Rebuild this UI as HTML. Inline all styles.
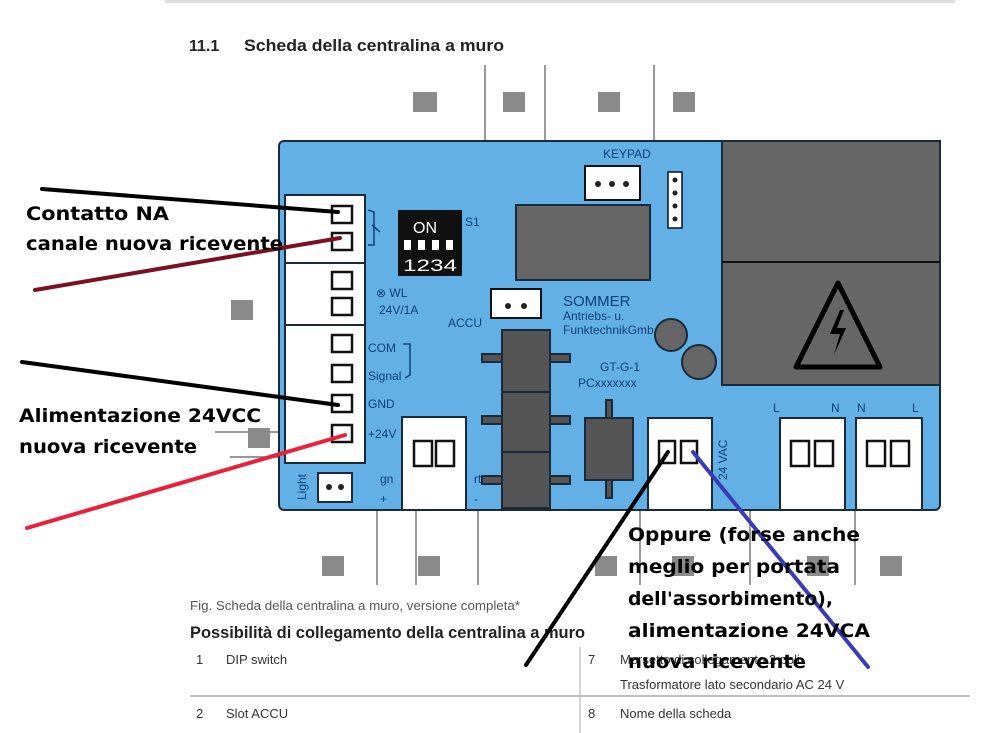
<!DOCTYPE html>
<html><head><meta charset="utf-8"><style>
html,body{margin:0;padding:0;background:#fff;}
svg{display:block;}
.lab{fill:#0d3f7a;font-family:"Liberation Sans",sans-serif;font-size:12px;}
.ann{font-family:"DejaVu Sans",sans-serif;font-weight:bold;font-size:19px;fill:#000;}
.g{fill:#8a8a8a;}
.tb{fill:#333;font-family:"Liberation Sans",sans-serif;font-size:13px;}
</style></head><body>
<svg width="1000" height="733" viewBox="0 0 1000 733" xmlns="http://www.w3.org/2000/svg">
<rect x="165" y="0" width="790" height="3" fill="#ddd"/>
<text x="189" y="51" font-family="Liberation Sans,sans-serif" font-weight="bold" font-size="16" fill="#222">11.1</text>
<text x="244" y="51" font-family="Liberation Sans,sans-serif" font-weight="bold" font-size="17" fill="#222" textLength="260" lengthAdjust="spacingAndGlyphs">Scheda della centralina a muro</text>
<g stroke="#777" stroke-width="1.5">
<line x1="485" y1="65" x2="485" y2="140"/><line x1="545" y1="65" x2="545" y2="140"/><line x1="654" y1="65" x2="654" y2="140"/>
<line x1="377" y1="510" x2="377" y2="585"/><line x1="416" y1="510" x2="416" y2="585"/><line x1="478" y1="510" x2="478" y2="585"/>
<line x1="750" y1="510" x2="750" y2="585"/><line x1="855" y1="510" x2="855" y2="585"/><line x1="640" y1="510" x2="640" y2="585"/>
<line x1="215" y1="432" x2="280" y2="432"/><line x1="230" y1="457" x2="280" y2="457"/>
</g>
<g class="g">
<rect x="413" y="92" width="24" height="20"/><rect x="503" y="92" width="22" height="20"/><rect x="598" y="92" width="22" height="20"/><rect x="673" y="92" width="22" height="20"/>
<rect x="231" y="300" width="22" height="20"/><rect x="248" y="428" width="22" height="20"/><rect x="445" y="490" width="22" height="20"/>
<rect x="322" y="556" width="22" height="20"/><rect x="418" y="556" width="22" height="20"/><rect x="595" y="556" width="22" height="20"/>
<rect x="672" y="556" width="22" height="20"/><rect x="807" y="556" width="22" height="20"/><rect x="880" y="556" width="22" height="20"/>
</g>
<rect x="279" y="141" width="661" height="369" rx="5" fill="#62b0e6" stroke="#1a2a3a" stroke-width="2"/>
<rect x="722" y="141" width="218" height="244" fill="#666" stroke="#1a2a3a" stroke-width="2"/>
<line x1="722" y1="262" x2="940" y2="262" stroke="#111" stroke-width="2"/>
<polygon points="838,283 880,367 796,367" fill="none" stroke="#000" stroke-width="5" stroke-linejoin="round"/>
<path d="M840,310 L830,334 L840,334 L834,355 L846,328 L837,328 L844,310 Z" fill="#000"/>
<rect x="285" y="195" width="80" height="268" fill="#fff" stroke="#1a2a3a" stroke-width="2"/>
<line x1="285" y1="263" x2="365" y2="263" stroke="#1a2a3a" stroke-width="2"/>
<line x1="285" y1="325" x2="365" y2="325" stroke="#1a2a3a" stroke-width="2"/>
<g fill="#fff" stroke="#111" stroke-width="2.5">
<rect x="332" y="206" width="20" height="17"/><rect x="332" y="233" width="20" height="17"/>
<rect x="332" y="272" width="20" height="17"/><rect x="332" y="298" width="20" height="17"/>
<rect x="332" y="335" width="20" height="17"/><rect x="332" y="365" width="20" height="17"/>
<rect x="332" y="395" width="20" height="17"/><rect x="332" y="425" width="20" height="17"/>
</g>
<path d="M368,210 L374,212 L374,245 L368,245 M372,225 L380,232" fill="none" stroke="#0d3f7a" stroke-width="1.5"/>
<text class="lab" x="376" y="297">⊗ WL</text><text class="lab" x="379" y="314">24V/1A</text>
<text class="lab" x="368" y="352">COM</text><text class="lab" x="368" y="380">Signal</text>
<text class="lab" x="368" y="408">GND</text><text class="lab" x="368" y="438">+24V</text>
<path d="M403,344 L410,344 L410,375 L405,378" fill="none" stroke="#0d3f7a" stroke-width="1.5"/>
<rect x="398" y="210" width="64" height="66" fill="#111"/>
<text x="413" y="233" fill="#fff" font-family="Liberation Sans,sans-serif" font-size="16">ON</text>
<g fill="#fff"><rect x="404" y="240" width="7" height="10"/><rect x="418" y="240" width="7" height="10"/><rect x="432" y="240" width="7" height="10"/><rect x="446" y="240" width="7" height="10"/></g>
<text x="403" y="271" fill="#fff" font-family="Liberation Sans,sans-serif" font-size="17" textLength="54" lengthAdjust="spacingAndGlyphs">1234</text>
<text class="lab" x="465" y="226">S1</text>
<text class="lab" x="603" y="158">KEYPAD</text>
<rect x="585" y="166" width="55" height="34" fill="#fff" stroke="#111" stroke-width="2"/>
<g fill="#222"><circle cx="598" cy="184" r="3"/><circle cx="612" cy="184" r="3"/><circle cx="626" cy="184" r="3"/></g>
<rect x="668" y="172" width="14" height="56" fill="#fff" stroke="#111" stroke-width="1.5"/>
<g fill="#222"><circle cx="675" cy="180" r="2.5"/><circle cx="675" cy="193" r="2.5"/><circle cx="675" cy="206" r="2.5"/><circle cx="675" cy="219" r="2.5"/></g>
<rect x="516" y="205" width="134" height="75" fill="#666" stroke="#1a2a3a" stroke-width="2"/>
<text x="563" y="306" fill="#0d3f7a" font-family="Liberation Sans,sans-serif" font-size="15">SOMMER</text>
<text class="lab" x="563" y="320" font-size="10">Antriebs- u.</text>
<text class="lab" x="563" y="334" font-size="10">FunktechnikGmb</text>
<text class="lab" x="600" y="371">GT-G-1</text>
<text class="lab" x="578" y="387">PCxxxxxxx</text>
<circle cx="671" cy="335" r="16" fill="#666" stroke="#1a2a3a" stroke-width="2"/>
<circle cx="699" cy="362" r="17" fill="#666" stroke="#1a2a3a" stroke-width="2"/>
<text class="lab" x="448" y="327">ACCU</text>
<rect x="491" y="289" width="50" height="29" fill="#fff" stroke="#111" stroke-width="2"/>
<g fill="#222"><circle cx="508" cy="306" r="3"/><circle cx="524" cy="306" r="3"/></g>
<g fill="#555" stroke="#1a2a3a" stroke-width="2">
<rect x="482" y="354" width="88" height="8"/><rect x="482" y="416" width="88" height="8"/><rect x="482" y="476" width="88" height="8"/>
<rect x="502" y="330" width="48" height="62"/><rect x="502" y="392" width="48" height="60"/><rect x="502" y="452" width="48" height="56"/>
<rect x="606" y="400" width="6" height="98"/>
<rect x="585" y="418" width="48" height="62"/>
</g>
<g fill="#fff" stroke="#1a2a3a" stroke-width="2">
<rect x="402" y="417" width="64" height="93"/><rect x="648" y="418" width="64" height="92"/>
<rect x="780" y="418" width="65" height="92"/><rect x="856" y="418" width="66" height="92"/>
<rect x="318" y="473" width="34" height="29"/>
</g>
<g fill="none" stroke="#111" stroke-width="2.5">
<rect x="414" y="441" width="18" height="25"/><rect x="436" y="441" width="18" height="25"/>
<rect x="659" y="441" width="16" height="22"/><rect x="681" y="441" width="16" height="22"/>
<rect x="791" y="441" width="18" height="25"/><rect x="815" y="441" width="18" height="25"/>
<rect x="867" y="441" width="18" height="25"/><rect x="891" y="441" width="18" height="25"/>
</g>
<g fill="#222"><circle cx="329" cy="487" r="3"/><circle cx="341" cy="487" r="3"/></g>
<text class="lab" transform="translate(306,500) rotate(-90)">Light</text>
<text class="lab" x="380" y="483">gn</text><text class="lab" x="380" y="503">+</text>
<text class="lab" x="474" y="483">rt</text><text class="lab" x="474" y="503">-</text>
<text class="lab" transform="translate(727,480) rotate(-90)">24 VAC</text>
<text class="lab" x="773" y="412">L</text><text class="lab" x="831" y="412">N</text><text class="lab" x="857" y="412">N</text><text class="lab" x="912" y="412">L</text>
<text x="190" y="610" fill="#555" font-family="Liberation Sans,sans-serif" font-size="12.5" textLength="330" lengthAdjust="spacingAndGlyphs">Fig. Scheda della centralina a muro, versione completa*</text>
<text x="190" y="638" fill="#222" font-family="Liberation Sans,sans-serif" font-weight="bold" font-size="17" textLength="395" lengthAdjust="spacingAndGlyphs">Possibilità di collegamento della centralina a muro</text>
<line x1="580" y1="647" x2="580" y2="733" stroke="#aaa"/>
<line x1="190" y1="696" x2="970" y2="696" stroke="#aaa" stroke-width="1.5"/>
<text class="tb" x="196" y="664">1</text><text class="tb" x="226" y="664">DIP switch</text>
<text class="tb" x="588" y="664">7</text><text class="tb" x="620" y="664" fill="#555">Morsetto di collegamento 2 poli</text>
<text class="tb" x="620" y="689">Trasformatore lato secondario AC 24 V</text>
<text class="tb" x="196" y="718">2</text><text class="tb" x="226" y="718">Slot ACCU</text>
<text class="tb" x="588" y="718">8</text><text class="tb" x="620" y="718">Nome della scheda</text>
<g stroke-linecap="round" stroke-width="4">
<line x1="42" y1="189" x2="338" y2="212" stroke="#000"/>
<line x1="35" y1="290" x2="340" y2="238" stroke="#7a1020"/>
<line x1="22" y1="362" x2="338" y2="405" stroke="#000"/>
<line x1="27" y1="528" x2="345" y2="435" stroke="#e8203a"/>
<line x1="526" y1="665" x2="668" y2="452" stroke="#000"/>
<line x1="868" y1="667" x2="693" y2="452" stroke="#3a3ab8"/>
</g>
<g class="ann">
<text x="26" y="220" textLength="143" lengthAdjust="spacingAndGlyphs">Contatto NA</text>
<text x="26" y="250" textLength="257" lengthAdjust="spacingAndGlyphs">canale nuova ricevente</text>
<text x="19" y="422" textLength="242" lengthAdjust="spacingAndGlyphs">Alimentazione 24VCC</text>
<text x="19" y="453" textLength="178" lengthAdjust="spacingAndGlyphs">nuova ricevente</text>
<text x="628" y="541" textLength="232" lengthAdjust="spacingAndGlyphs">Oppure (forse anche</text>
<text x="628" y="573" textLength="212" lengthAdjust="spacingAndGlyphs">meglio per portata</text>
<text x="628" y="605" textLength="205" lengthAdjust="spacingAndGlyphs">dell'assorbimento),</text>
<text x="628" y="637" textLength="242" lengthAdjust="spacingAndGlyphs">alimentazione 24VCA</text>
<text x="628" y="668" textLength="178" lengthAdjust="spacingAndGlyphs">nuova ricevente</text>
</g>
</svg>
</body></html>
